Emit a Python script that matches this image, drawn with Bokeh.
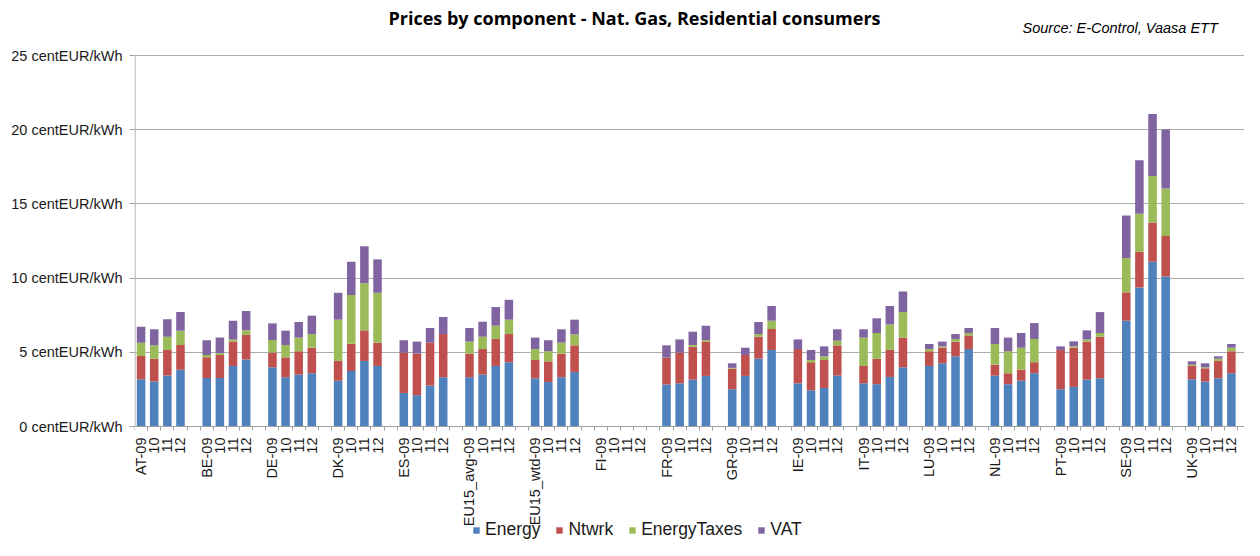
import math
from bokeh.plotting import figure
from bokeh.models import (Range1d, FixedTicker, Legend, LegendItem,
                          ColumnDataSource, PrintfTickFormatter)
from bokeh.core.properties import value
from bokeh.embed import file_html
from bokeh.resources import INLINE

countries = ["AT", "BE", "DE", "DK", "ES", "EU15_avg", "EU15_wtd", "FI", "FR",
             "GR", "IE", "IT", "LU", "NL", "PT", "SE", "UK"]
years = ["09", "10", "11", "12"]
components = ["Energy", "Ntwrk", "EnergyTaxes", "VAT"]
colors = ["#4F81BD", "#C0504D", "#9BBB59", "#8064A2"]

energy = [3.18, 3.03, 3.43, 3.83,   # AT
          3.27, 3.27, 4.08, 4.51,   # BE
          3.99, 3.32, 3.50, 3.59,   # DE
          3.09, 3.74, 4.42, 4.08,   # DK
          2.26, 2.11, 2.76, 3.32,   # ES
          3.32, 3.50, 4.08, 4.33,   # EU15_avg
          3.25, 3.00, 3.32, 3.68,   # EU15_wtd
          0.00, 0.00, 0.00, 0.00,   # FI
          2.83, 2.91, 3.16, 3.41,   # FR
          2.51, 3.41, 4.57, 5.16,   # GR
          2.91, 2.44, 2.60, 3.43,   # IE
          2.91, 2.85, 3.34, 3.99,   # IT
          4.08, 4.26, 4.73, 5.22,   # LU
          3.43, 2.85, 3.09, 3.59,   # NL
          2.51, 2.67, 3.16, 3.25,   # PT
          7.13, 9.37, 11.10, 10.11, # SE
          3.18, 3.03, 3.25, 3.59]   # UK
ntwrk = [1.57, 1.54, 1.73, 1.66,
         1.39, 1.55, 1.64, 1.66,
         0.99, 1.34, 1.57, 1.72,
         1.33, 1.84, 2.06, 1.57,
         2.72, 2.80, 2.89, 2.91,
         1.59, 1.72, 1.82, 1.90,
         1.23, 1.39, 1.59, 1.79,
         0.00, 0.00, 0.00, 0.00,
         1.81, 2.07, 2.22, 2.31,
         1.39, 1.41, 1.48, 1.41,
         2.31, 1.89, 1.88, 2.04,
         1.17, 1.72, 1.82, 2.00,
         0.99, 1.05, 0.99, 0.92,
         0.74, 0.74, 0.74, 0.74,
         2.65, 2.64, 2.56, 2.80,
         1.91, 2.40, 2.64, 2.72,
         0.90, 0.89, 1.17, 1.48]
energy_taxes = [0.90, 0.90, 0.89, 0.97,
                0.16, 0.11, 0.15, 0.31,
                0.85, 0.83, 0.92, 0.92,
                2.78, 3.28, 3.18, 3.36,
                0.00, 0.00, 0.00, 0.00,
                0.81, 0.83, 0.89, 0.97,
                0.74, 0.68, 0.74, 0.74,
                0.00, 0.00, 0.00, 0.00,
                0.00, 0.00, 0.11, 0.11,
                0.05, 0.00, 0.18, 0.56,
                0.00, 0.15, 0.25, 0.31,
                1.91, 1.73, 1.72, 1.72,
                0.15, 0.09, 0.18, 0.16,
                1.39, 1.48, 1.48, 1.57,
                0.00, 0.09, 0.15, 0.25,
                2.31, 2.56, 3.14, 3.20,
                0.09, 0.07, 0.15, 0.24]
vat = [1.08, 1.08, 1.17, 1.25,
       0.99, 1.06, 1.26, 1.30,
       1.12, 0.97, 1.05, 1.24,
       1.81, 2.24, 2.49, 2.25,
       0.83, 0.81, 0.99, 1.15,
       0.92, 1.01, 1.26, 1.34,
       0.77, 0.74, 0.90, 0.99,
       0.00, 0.00, 0.00, 0.00,
       0.83, 0.89, 0.90, 0.96,
       0.31, 0.49, 0.81, 0.99,
       0.65, 0.68, 0.67, 0.77,
       0.56, 0.99, 1.24, 1.39,
       0.34, 0.32, 0.33, 0.34,
       1.08, 0.92, 0.99, 1.07,
       0.24, 0.34, 0.61, 1.41,
       2.87, 3.61, 4.17, 3.99,
       0.22, 0.27, 0.16, 0.25]

y_ticks = [0, 5, 10, 15, 20, 25]
title_text = "Prices by component - Nat. Gas, Residential consumers"
source_text = "Source: E-Control, Vaasa ETT"

# slot positions: 4 bars per country + 1 empty slot
slot = len(years) + 1
xs, labels = [], {}
for g, c in enumerate(countries):
    for j, yr in enumerate(years):
        x = g * slot + j
        xs.append(x)
        labels[x] = f"{c}-{yr}" if j == 0 else yr
n_slots = len(countries) * slot

src = ColumnDataSource(dict(x=xs, Energy=energy, Ntwrk=ntwrk,
                            EnergyTaxes=energy_taxes, VAT=vat))

FONT = "Liberation Sans"
W, H = 1244, 540
LEFT, ZERO_PX = 134, 426         # frame left / pixel row of value 0
PX_PER_UNIT = 371.0 / 25.0
Y_TOP = ZERO_PX / PX_PER_UNIT            # frame reaches the canvas top
Y_BOT = -(H - ZERO_PX) / PX_PER_UNIT     # ... and the canvas bottom
X_END = n_slots - 1.0

p = figure(width=W, height=H, output_backend="svg", toolbar_location=None,
           x_range=Range1d(-0.5, X_END), y_range=Range1d(Y_BOT, Y_TOP),
           min_border_left=LEFT, min_border_right=0, min_border_top=0,
           min_border_bottom=0)
p.outline_line_color = None
p.background_fill_color = "white"
p.border_fill_color = "white"

renderers = p.vbar_stack(components, x="x", width=0.65, source=src,
                         color=colors, line_color=None)

# y axis line drawn only from 0 to 25
p.segment(x0=[-0.5 + 0.04], y0=[0], x1=[-0.5 + 0.04], y1=[y_ticks[-1]],
          line_color="#A0A0A0", line_width=1)

# axes
p.yaxis.ticker = FixedTicker(ticks=y_ticks)
p.yaxis.formatter = PrintfTickFormatter(format="%d centEUR/kWh")
p.yaxis.major_label_text_font = FONT
p.yaxis.major_label_text_font_size = "14.5px"
p.yaxis.major_label_text_color = "#1a1a1a"
p.yaxis.axis_line_color = None
p.yaxis.major_tick_line_color = "#A0A0A0"
p.yaxis.major_tick_out = 5
p.yaxis.major_tick_in = 0
p.yaxis.minor_tick_line_color = None
p.yaxis.major_label_standoff = 7

p.xaxis.fixed_location = 0
p.xaxis.ticker = FixedTicker(ticks=xs,
                             minor_ticks=[i - 0.5 for i in range(n_slots + 1)])
p.xaxis.major_label_overrides = labels
p.xaxis.major_label_orientation = math.pi / 2
p.xaxis.major_label_text_font = FONT
p.xaxis.major_label_text_font_size = "14.5px"
p.xaxis.major_label_text_color = "#1a1a1a"
p.xaxis.axis_line_color = "#A0A0A0"
p.xaxis.major_tick_line_color = None
p.xaxis.major_tick_out = 0
p.xaxis.major_tick_in = 0
p.xaxis.minor_tick_line_color = "#A0A0A0"
p.xaxis.minor_tick_out = 4
p.xaxis.minor_tick_in = 0
p.xaxis.major_label_standoff = 7

p.xgrid.grid_line_color = None
p.ygrid.grid_line_color = "#ABABAB"
p.ygrid.grid_line_width = 1

# title and source (inside the extended frame)
def canvas_x(px):
    return -0.5 + (px - LEFT) / ((W - LEFT) / (X_END + 0.5))

def canvas_y(py):
    return (ZERO_PX - py) / PX_PER_UNIT

p.text(x=[canvas_x(634)], y=[canvas_y(17)], text=[title_text],
       text_font=value("Open Sans"), text_font_style="bold",
       text_font_size="18px", text_align="center", text_baseline="middle",
       text_color="#000000")
p.text(x=[canvas_x(1022)], y=[canvas_y(27)], text=[source_text],
       text_font=value(FONT), text_font_style="italic",
       text_font_size="14.5px", text_align="left", text_baseline="middle",
       text_color="#000000")

legend = Legend(items=[LegendItem(label=c, renderers=[r])
                       for c, r in zip(components, renderers)],
                orientation="horizontal", location=(472 - LEFT, 0),
                label_text_font=FONT, label_text_font_size="17.5px",
                label_text_color="#1a1a1a", glyph_width=8, glyph_height=8,
                label_standoff=5, spacing=15, padding=0, margin=0,
                border_line_color=None, background_fill_alpha=0,
                label_height=18)
p.add_layout(legend, "center")

open("out.html", "w").write(file_html(p, INLINE))
